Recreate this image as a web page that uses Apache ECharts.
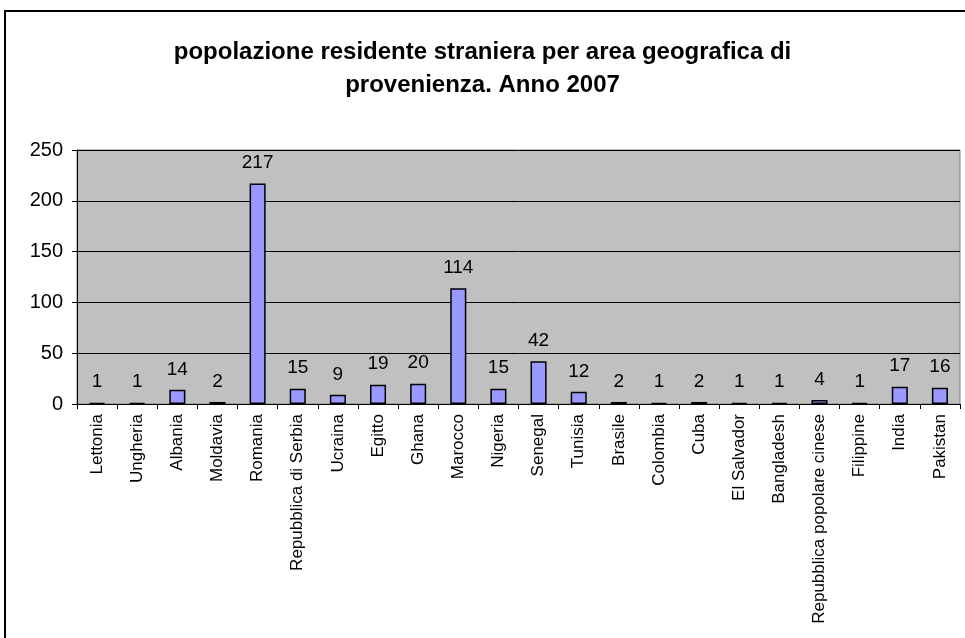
<!DOCTYPE html>
<html>
<head>
<meta charset="utf-8">
<style>
  html, body { margin: 0; padding: 0; background: #fff; }
  #chart { width: 965px; height: 638px; }
</style>
<script src="https://cdn.jsdelivr.net/npm/echarts@6/dist/echarts.min.js"></script>
</head>
<body>
<div id="chart"></div>
<script>
  // dati
  const paesi = ['Lettonia', 'Ungheria', 'Albania', 'Moldavia', 'Romania', 'Repubblica di Serbia',
    'Ucraina', 'Egitto', 'Ghana', 'Marocco', 'Nigeria', 'Senegal', 'Tunisia', 'Brasile',
    'Colombia', 'Cuba', 'El Salvador', 'Bangladesh', 'Repubblica popolare cinese',
    'Filippine', 'India', 'Pakistan']
  const residenti = [1, 1, 14, 2, 217, 15, 9, 19, 20, 114, 15, 42, 12, 2, 1, 2, 1, 1, 4, 1, 17, 16]
  const titolo = 'popolazione residente straniera per area geografica di\nprovenienza. Anno 2007'

  const chart = echarts.init(document.getElementById('chart'))
  const font = '"Liberation Sans", Arial, sans-serif'

  chart.setOption({
    animation: false,
    textStyle: { fontFamily: font },
    title: {
      text: titolo,
      left: 'center',
      top: 31,
      textStyle: {
        fontFamily: font,
        fontSize: 24,
        fontWeight: 'bold',
        color: '#000',
        lineHeight: 33
      }
    },
    graphic: [{
      type: 'rect',
      shape: { x: 5, y: 11, width: 990, height: 700 },
      style: { fill: 'none', stroke: '#000', lineWidth: 2 },
      silent: true
    }],
    grid: {
      left: 77,
      right: 5,
      top: 150,
      height: 254,
      show: true,
      backgroundColor: '#c0c0c0',
      borderColor: '#808080',
      borderWidth: 1
    },
    xAxis: {
      type: 'category',
      data: paesi,
      axisLine: { lineStyle: { color: '#000', width: 1 } },
      axisTick: { show: true, alignWithLabel: false, length: 5, lineStyle: { color: '#000' } },
      axisLabel: {
        rotate: 90,
        interval: 0,
        color: '#000',
        fontSize: 17,
        fontFamily: font,
        margin: 10
      },
      splitLine: { show: false }
    },
    yAxis: {
      type: 'value',
      min: 0,
      max: 250,
      interval: 50,
      axisLine: { show: true, lineStyle: { color: '#000', width: 1 } },
      axisTick: { show: true, length: 5, lineStyle: { color: '#000' } },
      axisLabel: { color: '#000', fontSize: 20, fontFamily: font, margin: 14 },
      splitLine: { show: true, lineStyle: { color: '#000', width: 1 } }
    },
    series: [{
      type: 'bar',
      data: residenti,
      barWidth: '40%',
      itemStyle: { color: '#9999ff', borderColor: '#000', borderWidth: 1.5 },
      label: {
        show: true,
        position: 'top',
        distance: 11,
        color: '#000',
        fontSize: 19,
        fontFamily: font
      }
    }]
  })
</script>
</body>
</html>
